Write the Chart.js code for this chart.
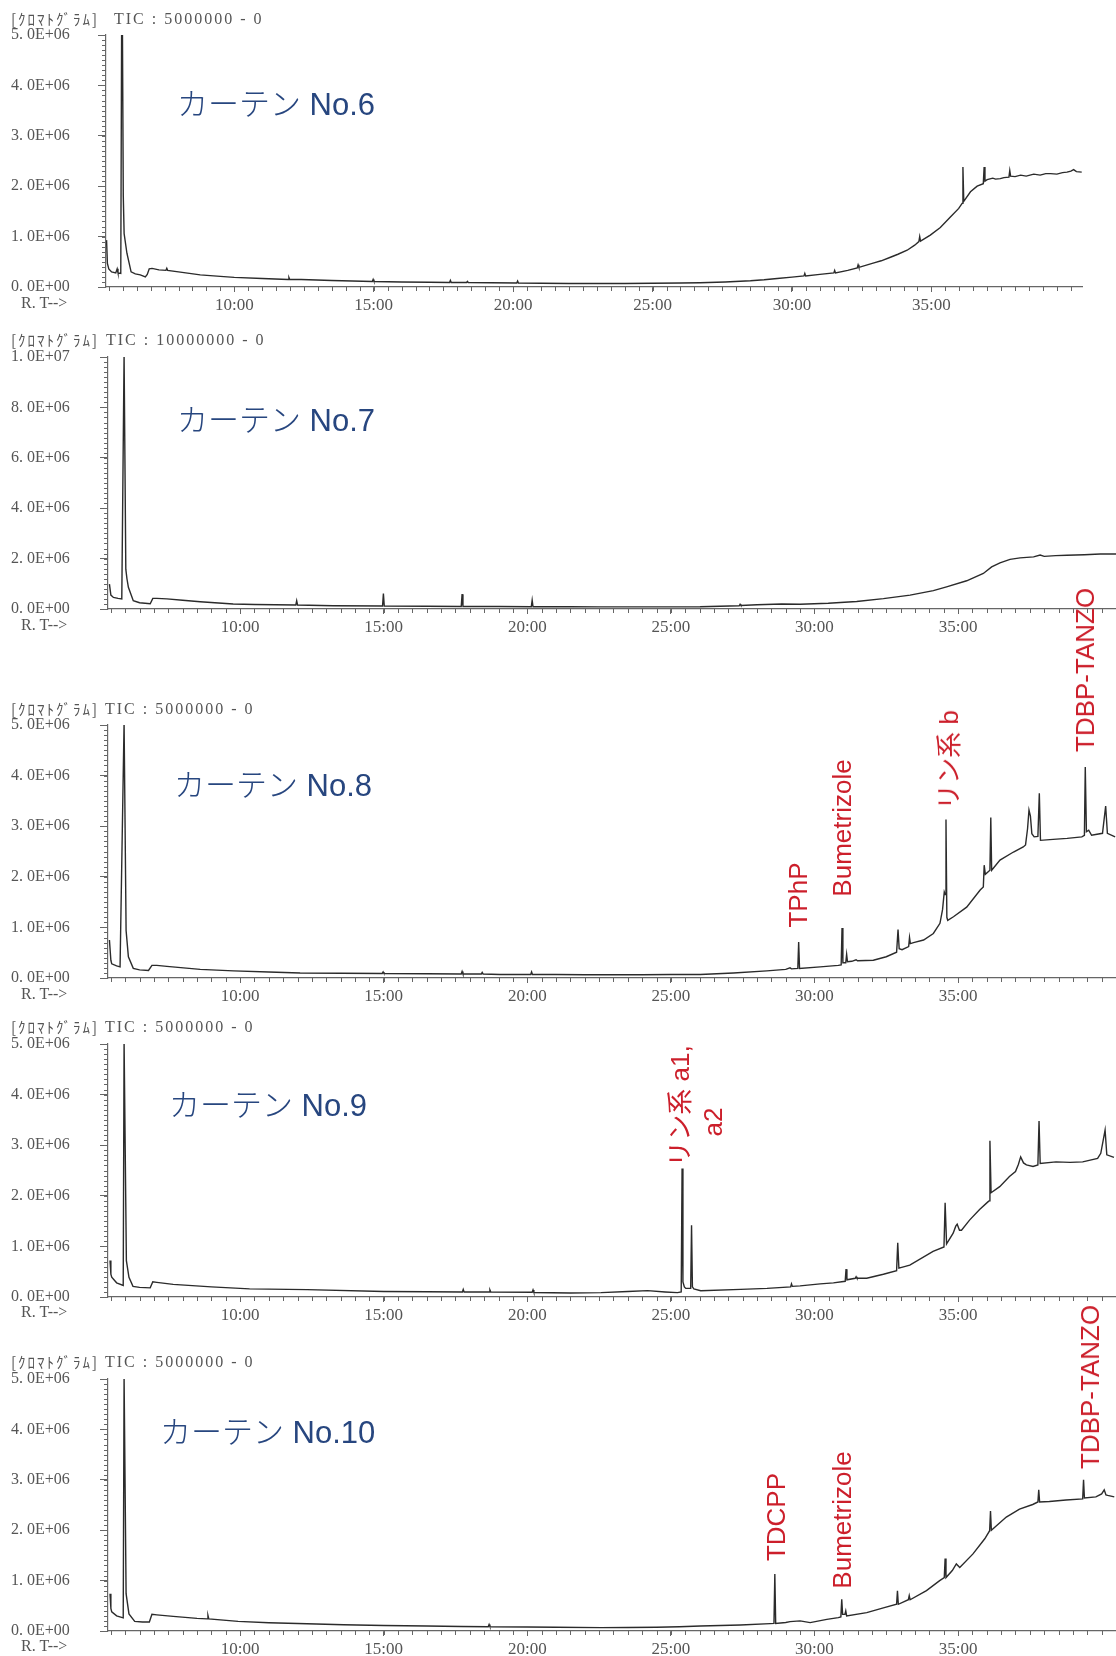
<!DOCTYPE html>
<html lang="ja">
<head>
<meta charset="UTF-8">
<title>カーテン TIC クロマトグラム</title>
<script src="https://cdn.jsdelivr.net/npm/chart.js@4.4.1/dist/chart.umd.min.js"></script>
<style>
    body { margin: 0; width: 1116px; height: 1656px; background: #fff; position: relative; overflow: hidden; }
    canvas { position: absolute; left: 0; }
    .hdr { position: absolute; font-family: "Liberation Serif", serif; font-size: 16px; line-height: 16px; color: #555; white-space: nowrap; letter-spacing: 2px; z-index: 2; }
    .kana { font-family: "Noto Sans CJK JP", sans-serif; font-size: 15px; letter-spacing: 2px; }
    .name { position: absolute; font-family: "Liberation Sans", "Noto Sans CJK JP", sans-serif; font-size: 31px; line-height: 31px; color: #27467f; white-space: nowrap; z-index: 2; }
    .name span { font-family: "Noto Sans CJK JP", sans-serif; font-weight: 300; }
    .lbl { position: absolute; font-family: "Liberation Sans", "Noto Sans CJK JP", sans-serif; font-size: 26px; line-height: 26px; color: #cc1f2b; white-space: nowrap; transform: translate(-50%, -50%) rotate(-90deg); z-index: 2; }
</style>
</head>
<body>

<canvas id="c6"></canvas>
<canvas id="c7"></canvas>
<canvas id="c8"></canvas>
<canvas id="c9"></canvas>
<canvas id="c10"></canvas>

<!-- No.6 -->
<div class="hdr" style="left:11px; top:11px;"><span class="kana">[ｸﾛﾏﾄｸﾞﾗﾑ]</span></div>
<div class="hdr" style="left:114px; top:11px;">TIC : 5000000 - 0</div>
<div class="hdr" style="left:21px; top:295px; letter-spacing:0;">R. T--&gt;</div>
<div class="name" style="left:177px; top:86px;"><span>カーテン</span> No.6</div>

<!-- No.7 -->
<div class="hdr" style="left:11px; top:332px;"><span class="kana">[ｸﾛﾏﾄｸﾞﾗﾑ]</span></div>
<div class="hdr" style="left:106px; top:332px;">TIC : 10000000 - 0</div>
<div class="hdr" style="left:21px; top:617px; letter-spacing:0;">R. T--&gt;</div>
<div class="name" style="left:177px; top:402px;"><span>カーテン</span> No.7</div>

<!-- No.8 -->
<div class="hdr" style="left:11px; top:701px;"><span class="kana">[ｸﾛﾏﾄｸﾞﾗﾑ]</span></div>
<div class="hdr" style="left:105px; top:701px;">TIC : 5000000 - 0</div>
<div class="hdr" style="left:21px; top:986px; letter-spacing:0;">R. T--&gt;</div>
<div class="name" style="left:174px; top:767px;"><span>カーテン</span> No.8</div>
<div class="lbl" style="left:798px; top:895px;">TPhP</div>
<div class="lbl" style="left:842px; top:828px;">Bumetrizole</div>
<div class="lbl" style="left:949px; top:760px;">リン系 b</div>
<div class="lbl" style="left:1085px; top:670px;">TDBP-TANZO</div>

<!-- No.9 -->
<div class="hdr" style="left:11px; top:1019px;"><span class="kana">[ｸﾛﾏﾄｸﾞﾗﾑ]</span></div>
<div class="hdr" style="left:105px; top:1019px;">TIC : 5000000 - 0</div>
<div class="hdr" style="left:21px; top:1304px; letter-spacing:0;">R. T--&gt;</div>
<div class="name" style="left:169px; top:1087px;"><span>カーテン</span> No.9</div>
<div class="lbl" style="left:680px; top:1106px;">リン系 a1,</div>
<div class="lbl" style="left:713px; top:1122px;">a2</div>

<!-- No.10 -->
<div class="hdr" style="left:11px; top:1354px;"><span class="kana">[ｸﾛﾏﾄｸﾞﾗﾑ]</span></div>
<div class="hdr" style="left:105px; top:1354px;">TIC : 5000000 - 0</div>
<div class="hdr" style="left:21px; top:1638px; letter-spacing:0;">R. T--&gt;</div>
<div class="name" style="left:160px; top:1414px;"><span>カーテン</span> No.10</div>
<div class="lbl" style="left:776px; top:1517px;">TDCPP</div>
<div class="lbl" style="left:842px; top:1520px;">Bumetrizole</div>
<div class="lbl" style="left:1090px; top:1387px;">TDBP-TANZO</div>

<script>
    // 保持時間 (min) と TIC 強度 (×1E+06) を図から読み取り

    // カーテン No.6
    var no6Time = [
        5.42, 5.45, 5.50, 5.60, 5.75, 5.80, 5.83, 5.93, 5.96, 5.99,
        6.02, 6.05, 6.15, 6.30, 6.45, 6.63, 6.81, 6.88, 6.95, 7.05,
        7.30, 7.55, 7.58, 7.61, 8.00, 8.78, 9.50, 10.00, 11.00, 11.93,
        11.96, 11.99, 12.40, 13.50, 14.95, 14.98, 15.01, 16.00, 17.00, 17.72,
        17.75, 17.78, 18.33, 18.36, 18.39, 19.20, 20.13, 20.16, 20.19, 21.00,
        22.00, 23.00, 24.00, 25.00, 26.00, 26.70, 27.60, 28.51, 29.00, 29.47,
        30.00, 30.43, 30.46, 30.49, 31.00, 31.50, 31.53, 31.56, 32.00, 32.34,
        32.37, 32.40, 32.94, 33.20, 33.53, 33.80, 34.13, 34.40, 34.55, 34.58,
        34.61, 34.96, 35.32, 35.68, 35.98, 36.10, 36.13, 36.16, 36.40, 36.64,
        36.86, 36.89, 36.92, 37.00, 37.20, 37.30, 37.47, 37.60, 37.78, 37.81,
        37.84, 38.00, 38.20, 38.40, 38.67, 38.90, 39.10, 39.27, 39.50, 39.70,
        39.86, 40.00, 40.10, 40.20, 40.39
    ];
    var no6Tic = [
        0.93, 0.47, 0.36, 0.30, 0.28, 0.36, 0.28, 0.27, 5.05, 5.05,
        1.80, 1.06, 0.67, 0.30, 0.26, 0.24, 0.20, 0.25, 0.36, 0.37,
        0.34, 0.33, 0.37, 0.33, 0.30, 0.24, 0.21, 0.19, 0.17, 0.15,
        0.19, 0.15, 0.15, 0.13, 0.11, 0.15, 0.11, 0.10, 0.095, 0.09,
        0.13, 0.09, 0.09, 0.11, 0.09, 0.085, 0.08, 0.12, 0.08, 0.075,
        0.07, 0.068, 0.07, 0.075, 0.08, 0.085, 0.10, 0.125, 0.145, 0.17,
        0.195, 0.22, 0.27, 0.22, 0.25, 0.28, 0.33, 0.28, 0.33, 0.38,
        0.44, 0.39, 0.48, 0.52, 0.59, 0.65, 0.73, 0.83, 0.90, 1.00,
        0.91, 1.03, 1.18, 1.39, 1.56, 1.66, 2.38, 1.70, 1.89, 2.00,
        2.05, 2.38, 2.10, 2.13, 2.16, 2.14, 2.15, 2.17, 2.18, 2.31,
        2.20, 2.19, 2.22, 2.20, 2.24, 2.22, 2.25, 2.25, 2.24, 2.27,
        2.28, 2.30, 2.33, 2.29, 2.28
    ];

    // カーテン No.7
    var no7Time = [
        5.45, 5.50, 5.59, 5.75, 5.88, 5.96, 5.99, 6.02, 6.06, 6.11,
        6.28, 6.50, 6.87, 6.96, 7.10, 7.45, 8.00, 8.61, 9.76, 10.50,
        11.94, 11.97, 12.00, 13.24, 14.96, 14.99, 15.02, 16.50, 17.70, 17.73,
        17.76, 19.00, 20.14, 20.17, 20.20, 21.50, 22.50, 23.50, 24.50, 26.02,
        27.38, 27.41, 27.44, 28.00, 28.86, 29.50, 30.48, 31.47, 32.40, 33.33,
        34.14, 34.60, 35.30, 35.88, 36.17, 36.46, 36.81, 37.16, 37.63, 37.86,
        38.00, 38.40, 38.79, 39.40, 39.95, 40.50
    ];
    var no7Tic = [
        0.99, 0.55, 0.46, 0.42, 0.40, 10.1, 10.1, 1.58, 1.20, 0.86,
        0.33, 0.25, 0.21, 0.42, 0.42, 0.40, 0.35, 0.29, 0.20, 0.18,
        0.16, 0.33, 0.16, 0.13, 0.12, 0.61, 0.12, 0.11, 0.10, 0.59,
        0.10, 0.10, 0.09, 0.35, 0.09, 0.09, 0.085, 0.085, 0.085, 0.09,
        0.13, 0.19, 0.14, 0.17, 0.20, 0.19, 0.23, 0.30, 0.41, 0.55,
        0.73, 0.88, 1.12, 1.41, 1.67, 1.83, 1.97, 2.03, 2.07, 2.14,
        2.09, 2.12, 2.13, 2.15, 2.18, 2.18
    ];

    // カーテン No.8
    var no8Time = [
        5.45, 5.50, 5.53, 5.70, 5.82, 5.96, 5.99, 6.03, 6.11, 6.28,
        6.50, 6.81, 6.93, 7.10, 7.45, 8.61, 9.77, 11.00, 12.09, 14.95,
        14.98, 15.01, 16.50, 17.70, 17.73, 17.76, 18.40, 18.43, 18.46, 19.05,
        20.12, 20.15, 20.18, 21.00, 22.00, 23.00, 24.00, 25.00, 26.02, 27.18,
        28.34, 29.00, 29.15, 29.20, 29.42, 29.45, 29.48, 30.20, 30.83, 30.93,
        30.96, 30.99, 31.09, 31.12, 31.15, 31.30, 31.45, 31.50, 32.05, 32.50,
        32.86, 32.91, 32.95, 33.05, 33.28, 33.31, 33.34, 33.45, 33.80, 34.14,
        34.37, 34.46, 34.52, 34.55, 34.58, 34.61, 34.64, 34.84, 35.30, 35.77,
        35.88, 35.91, 35.95, 36.11, 36.14, 36.17, 36.46, 36.93, 37.27, 37.35,
        37.42, 37.47, 37.52, 37.57, 37.65, 37.78, 37.83, 37.87, 38.31, 38.80,
        39.31, 39.40, 39.43, 39.47, 39.55, 39.65, 40.03, 40.14, 40.20, 40.47
    ];
    var no8Tic = [
        0.75, 0.35, 0.28, 0.24, 0.22, 5.05, 5.05, 0.94, 0.42, 0.19,
        0.16, 0.15, 0.25, 0.25, 0.23, 0.17, 0.14, 0.12, 0.10, 0.09,
        0.12, 0.09, 0.085, 0.08, 0.13, 0.08, 0.08, 0.11, 0.08, 0.07,
        0.07, 0.12, 0.07, 0.07, 0.065, 0.065, 0.065, 0.068, 0.07, 0.10,
        0.14, 0.17, 0.20, 0.18, 0.19, 0.71, 0.19, 0.22, 0.25, 0.26,
        0.99, 0.30, 0.30, 0.47, 0.32, 0.33, 0.36, 0.34, 0.35, 0.42,
        0.51, 0.96, 0.58, 0.56, 0.62, 0.80, 0.68, 0.70, 0.75, 0.88,
        1.08, 1.35, 1.70, 1.65, 3.13, 1.20, 1.14, 1.21, 1.40, 1.74,
        1.80, 2.23, 2.05, 2.13, 3.17, 2.13, 2.33, 2.49, 2.59, 2.63,
        2.95, 3.32, 3.20, 2.85, 2.79, 2.80, 3.65, 2.72, 2.74, 2.76,
        2.79, 2.82, 4.17, 2.89, 2.92, 2.82, 2.86, 3.40, 2.86, 2.79
    ];

    // カーテン No.9
    var no9Time = [
        5.47, 5.50, 5.53, 5.70, 5.93, 5.96, 5.99, 6.04, 6.13, 6.27,
        6.50, 6.87, 6.96, 7.10, 7.67, 9.00, 10.33, 12.33, 15.00, 16.50,
        17.74, 17.77, 17.80, 18.67, 18.70, 18.73, 20.17, 20.20, 20.23, 21.50,
        22.57, 23.50, 24.19, 24.80, 25.23, 25.36, 25.39, 25.42, 25.47, 25.52,
        25.69, 25.72, 25.75, 25.80, 26.04, 27.43, 28.35, 29.17, 29.20, 29.23,
        29.50, 30.20, 30.66, 31.07, 31.10, 31.13, 31.42, 31.45, 31.48, 31.82,
        32.40, 32.86, 32.90, 32.94, 33.32, 34.13, 34.51, 34.55, 34.60, 34.83,
        34.92, 34.97, 35.05, 35.12, 35.40, 35.75, 36.04, 36.08, 36.11, 36.15,
        36.45, 36.79, 37.00, 37.10, 37.18, 37.28, 37.38, 37.61, 37.78, 37.82,
        37.86, 38.41, 38.90, 39.34, 39.86, 39.97, 40.12, 40.18, 40.43
    ];
    var no9Tic = [
        0.72, 0.45, 0.39, 0.28, 0.23, 5.05, 5.05, 0.72, 0.39, 0.21,
        0.19, 0.18, 0.30, 0.29, 0.25, 0.20, 0.16, 0.145, 0.11, 0.105,
        0.10, 0.15, 0.10, 0.10, 0.14, 0.10, 0.095, 0.14, 0.09, 0.08,
        0.086, 0.11, 0.125, 0.10, 0.086, 0.10, 2.54, 0.30, 0.20, 0.17,
        0.17, 1.42, 0.20, 0.16, 0.125, 0.15, 0.17, 0.20, 0.26, 0.21,
        0.22, 0.26, 0.28, 0.31, 0.55, 0.34, 0.37, 0.40, 0.37, 0.37,
        0.45, 0.52, 1.07, 0.57, 0.63, 0.90, 0.99, 1.86, 1.05, 1.26,
        1.40, 1.44, 1.32, 1.32, 1.52, 1.73, 1.88, 1.90, 3.09, 2.06,
        2.18, 2.38, 2.48, 2.62, 2.77, 2.65, 2.61, 2.58, 2.61, 3.48,
        2.64, 2.67, 2.66, 2.67, 2.74, 2.84, 3.30, 2.81, 2.76
    ];

    // カーテン No.10
    var no10Time = [
        5.47, 5.50, 5.53, 5.70, 5.93, 5.96, 5.99, 6.03, 6.13, 6.33,
        6.60, 6.84, 6.93, 7.10, 7.67, 8.50, 8.85, 8.88, 8.91, 9.93,
        11.00, 12.33, 13.60, 15.00, 16.50, 17.70, 18.64, 18.67, 18.70, 20.00,
        21.00, 22.57, 23.50, 24.50, 25.30, 26.03, 27.42, 28.46, 28.59, 28.62,
        28.65, 29.00, 29.15, 29.50, 29.85, 30.43, 30.83, 30.92, 30.95, 30.98,
        31.06, 31.09, 31.12, 31.82, 32.40, 32.86, 32.89, 32.92, 33.27, 33.30,
        33.33, 33.90, 34.36, 34.52, 34.55, 34.58, 34.80, 34.94, 35.06, 35.52,
        35.93, 36.10, 36.13, 36.16, 36.68, 37.14, 37.60, 37.78, 37.81, 37.84,
        38.18, 38.76, 39.34, 39.37, 39.40, 39.80, 40.00, 40.09, 40.15, 40.21,
        40.44
    ];
    var no10Tic = [
        0.74, 0.45, 0.38, 0.30, 0.26, 5.05, 5.05, 0.74, 0.34, 0.19,
        0.18, 0.18, 0.33, 0.32, 0.29, 0.25, 0.24, 0.31, 0.24, 0.19,
        0.165, 0.145, 0.125, 0.11, 0.10, 0.09, 0.085, 0.13, 0.085, 0.08,
        0.075, 0.066, 0.07, 0.075, 0.085, 0.10, 0.12, 0.146, 0.15, 1.13,
        0.15, 0.17, 0.186, 0.20, 0.166, 0.23, 0.266, 0.28, 0.63, 0.33,
        0.33, 0.40, 0.30, 0.365, 0.46, 0.53, 0.80, 0.53, 0.62, 0.70,
        0.62, 0.80, 1.00, 1.06, 1.44, 1.06, 1.20, 1.33, 1.26, 1.53,
        1.83, 1.99, 2.38, 2.00, 2.26, 2.42, 2.51, 2.56, 2.80, 2.56,
        2.57, 2.60, 2.62, 3.00, 2.64, 2.66, 2.72, 2.80, 2.70, 2.69,
        2.66
    ];

    // 軸の目盛
    var xTicks = [10, 15, 20, 25, 30, 35];
    var yTicks5 = [0, 1, 2, 3, 4, 5];       // ×1E+06
    var yTicks10 = [0, 2, 4, 6, 8, 10];     // ×1E+06

    var corLinha = '#2b2b2b';
    var corEixo = '#666';
    var fonteY = { family: 'Liberation Serif', size: 16 };
    var fonteX = { family: 'Liberation Serif', size: 17 };

    // 1E+06 単位の値を "5. 0E+06" 形式へ
    function rotuloY(v) {
        if (v === 0) return '0. 0E+00';
        var n = v * 1e6;
        var e = Math.floor(Math.log10(n) + 1e-9);
        var m = n / Math.pow(10, e);
        return m.toFixed(1).replace('.', '. ') + 'E+' + String(e).padStart(2, '0');
    }

    // 小目盛 (縦軸 1/10、横軸 0.5 分ごと)
    var minorTicks = {
        id: 'minorTicks',
        afterDraw: function (chart, args, opts) {
            var ctx = chart.ctx, area = chart.chartArea;
            var x = chart.scales.x, y = chart.scales.y;
            ctx.save();
            ctx.strokeStyle = corEixo;
            ctx.lineWidth = 1;
            ctx.beginPath();
            for (var i = 0; i <= 50; i++) {
                var py = Math.round(y.getPixelForValue(i * opts.yStep)) + 0.5;
                ctx.moveTo(area.left - 4, py);
                ctx.lineTo(area.left, py);
            }
            for (var k = 11; k / 2 <= x.max; k++) {
                var px = Math.round(x.getPixelForValue(k / 2)) + 0.5;
                ctx.moveTo(px, area.bottom);
                ctx.lineTo(px, area.bottom + 4);
            }
            ctx.stroke();
            ctx.restore();
        }
    };

    var margemEsq = 11;

    function montarGrafico(id, tempos, tic, yTicks, caixa) {
        var canvas = document.getElementById(id);
        canvas.width = caixa.w;
        canvas.height = caixa.bottom - caixa.top + 12 + 32;
        canvas.style.top = (caixa.top - 12) + 'px';

        var pontos = tempos.map(function (t, i) { return { x: t, y: tic[i] }; });
        var yMax = yTicks[yTicks.length - 1];

        new Chart(canvas.getContext('2d'), {
            type: 'line',
            data: { datasets: [{ data: pontos, borderColor: corLinha, borderWidth: 1.4, pointRadius: 0, tension: 0 }] },
            plugins: [minorTicks],
            options: {
                responsive: false,
                animation: false,
                devicePixelRatio: 1,
                layout: { padding: { top: 12, left: margemEsq, bottom: 0, right: caixa.w - caixa.right } },
                plugins: {
                    legend: { display: false },
                    tooltip: { enabled: false },
                    minorTicks: { yStep: yMax / 50 }
                },
                scales: {
                    x: {
                        type: 'linear',
                        min: caixa.xMin,
                        max: caixa.xMax,
                        afterBuildTicks: function (s) { s.ticks = xTicks.map(function (v) { return { value: v }; }); },
                        afterFit: function (s) { s.height = 32; },
                        ticks: { callback: function (v) { return v + ':00'; }, font: fonteX, color: '#555', padding: 3, maxRotation: 0, autoSkip: false },
                        grid: { drawOnChartArea: false, tickLength: 5, color: corEixo },
                        border: { color: corEixo, width: 1.2 }
                    },
                    y: {
                        min: 0,
                        max: yMax,
                        afterBuildTicks: function (s) { s.ticks = yTicks.map(function (v) { return { value: v }; }); },
                        afterFit: function (s) { s.width = caixa.left - margemEsq; },
                        ticks: { callback: rotuloY, font: fonteY, color: '#555', padding: 0, crossAlign: 'far', autoSkip: false },
                        grid: { drawOnChartArea: false, tickLength: 8, color: corEixo },
                        border: { color: corEixo, width: 1.2 }
                    }
                }
            }
        });
    }

    montarGrafico('c6', no6Time, no6Tic, yTicks5, { left: 106, right: 1082, w: 1090, top: 35, bottom: 287, xMin: 5.4, xMax: 40.4 });
    montarGrafico('c7', no7Time, no7Tic, yTicks10, { left: 108, right: 1116, w: 1116, top: 357, bottom: 609, xMin: 5.4, xMax: 40.5 });
    montarGrafico('c8', no8Time, no8Tic, yTicks5, { left: 108, right: 1116, w: 1116, top: 725, bottom: 978, xMin: 5.4, xMax: 40.5 });
    montarGrafico('c9', no9Time, no9Tic, yTicks5, { left: 108, right: 1116, w: 1116, top: 1044, bottom: 1297, xMin: 5.4, xMax: 40.5 });
    montarGrafico('c10', no10Time, no10Tic, yTicks5, { left: 108, right: 1116, w: 1116, top: 1379, bottom: 1631, xMin: 5.4, xMax: 40.5 });
</script>
</body>
</html>
